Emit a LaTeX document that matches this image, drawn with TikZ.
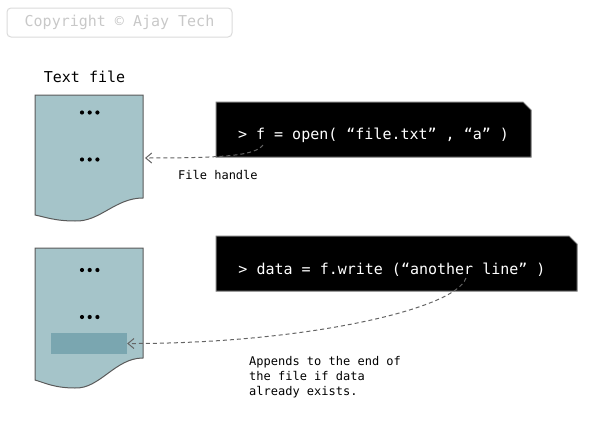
\documentclass[tikz,border=0pt]{standalone}
\usepackage{fontspec}
\setmonofont{DejaVu Sans Mono}
\usetikzlibrary{arrows.meta}
\definecolor{docfill}{RGB}{165,196,201}
\definecolor{hlfill}{RGB}{122,166,176}
\definecolor{docedge}{RGB}{90,90,90}
\definecolor{cpgray}{RGB}{200,200,200}
\definecolor{cpedge}{RGB}{218,218,218}
\definecolor{connc}{RGB}{100,100,100}
\definecolor{boxedge}{RGB}{120,120,120}
\tikzset{
  doc/.style={fill=docfill, draw=docedge, line width=1pt},
  dotmark/.style={fill=black},
  hlbox/.style={fill=hlfill, draw=none, minimum width=76pt, minimum height=21pt, inner sep=0pt},
  codebox/.style={fill=black, draw=boxedge, line width=1pt},
  codetext/.style={text=white, font=\ttfamily\fontsize{15}{18}\selectfont, inner sep=0pt},
  plain/.style={font=\ttfamily\fontsize{15}{18}\selectfont, inner sep=0pt},
  note/.style={font=\ttfamily\fontsize{12}{15}\selectfont, inner sep=0pt, align=left},
  conn/.style={draw=connc, line width=1pt, dash pattern=on 4pt off 3pt,
    -{Straight Barb[length=6pt,width=10pt,line width=1pt]}},
  copy/.style={draw=cpedge, line width=1pt, rounded corners=4pt, text=cpgray,
    font=\ttfamily\fontsize{15}{18}\selectfont, minimum width=225pt, minimum height=29pt, inner sep=0pt}
}
\begin{document}
\begin{tikzpicture}[x=1pt,y=-1pt]
\useasboundingbox (0,0) rectangle (613,423);

% copyright
\node[copy] (copyright) at (119.5,22.5) {Copyright © Ajay Tech};

% title
\node[plain, anchor=base] (title) at (84.5,82) {Text file};

% document 1
\draw[doc] (35,95) -- (143,95) -- (143,198)
  .. controls (115,198) and (100,222) .. (75,221)
  .. controls (55,221) and (45,217) .. (35,215) -- cycle;
\foreach \y in {112.5,159.5}{
  \foreach \x in {82,89.7,97.4}{\fill[dotmark] (\x,\y) circle (2.1pt);}
}
\coordinate (d1in) at (145,158);

% document 2
\draw[doc] (35,248) -- (143,248) -- (143,358)
  .. controls (115,358) and (100,389) .. (75,388)
  .. controls (55,388) and (45,383) .. (35,380) -- cycle;
\foreach \y in {270,317}{
  \foreach \x in {82,89.7,97.4}{\fill[dotmark] (\x,\y) circle (2.1pt);}
}
\node[hlbox] (rec) at (89,343.5) {};

% code box 1
\draw[codebox] (216,102) -- (523,102) -- (531,110) -- (531,157) -- (216,157) -- cycle;
\node[codetext, anchor=base] (code1) at (373.5,139) {> f = open( “file.txt” , “a” )};
\coordinate (c1) at (263,145);

% code box 2
\draw[codebox] (216,236) -- (569,236) -- (577,244) -- (577,291) -- (216,291) -- cycle;
\node[codetext, anchor=base] (code2) at (392,274) {> data = f.write (“another line” )};
\coordinate (c2) at (466,278);

% connectors
\draw[conn] (c1) .. controls (255,155) and (230,158) .. (d1in);
\draw[conn] (c2) .. controls (455,310) and (300,344) .. (rec.east);

% notes
\node[note, anchor=base west] (lab1) at (178,179) {File handle};
\node[note, anchor=base west] (lab2) at (249,395) {Appends to the end of\\the file if data\\already exists.};
\end{tikzpicture}
\end{document}
